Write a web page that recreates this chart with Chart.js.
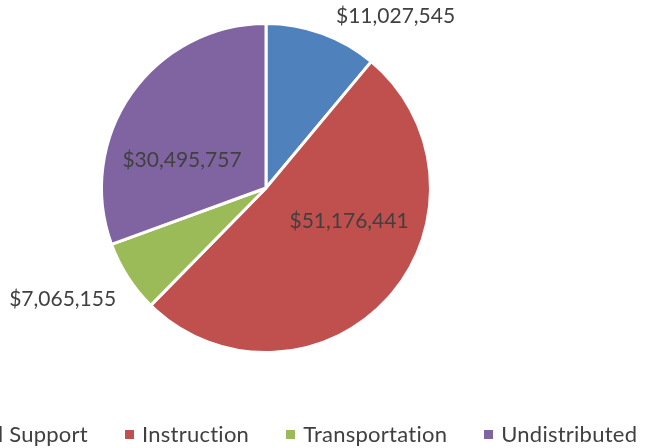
<!DOCTYPE html>
<html>
<head>
<meta charset="utf-8">
<script src="https://cdn.jsdelivr.net/npm/chart.js@4.4.0/dist/chart.umd.min.js"></script>
<style>
  html, body { margin: 0; padding: 0; background: #fff; }
  #wrap { position: relative; width: 645px; height: 448px; overflow: hidden; }
  #c { position: absolute; left: 0; top: 0; }
  #legend { position: absolute; top: 421px; left: 0; display: flex; align-items: center; white-space: nowrap;
            font-family: Lato, "Open Sans", sans-serif; font-size: 22px; letter-spacing: 0.25px; color: #404040; line-height: 26px; }
  .item { display: flex; align-items: center; margin-right: 37px; }
  .sw { width: 9px; height: 9px; margin-right: 8px; margin-top: 1px; }
</style>
</head>
<body>
<div id="wrap">
  <canvas id="c" width="645" height="448"></canvas>
  <div id="legend"></div>
</div>
<script>
const categories = ["Instructional Support", "Instruction", "Transportation", "Undistributed"];
const values = [11027545, 51176441, 7065155, 30495757];
const colors = ["#4F81BD", "#C0504D", "#9BBB59", "#8064A2"];

// label placement in polar terms relative to pie: angle (deg clockwise from top), distance as fraction of radius
const labelPlacement = [
  { angle: 36.9, dist: 1.300 },
  { angle: 111.3, dist: 0.537 },
  { angle: 241.5, dist: 1.394 },
  { angle: 288.6, dist: 0.534 }
];

const fmt = v => "$" + v.toLocaleString("en-US");

const labelPlugin = {
  id: "pieLabels",
  afterDatasetsDraw(chart) {
    const ctx = chart.ctx;
    const meta = chart.getDatasetMeta(0);
    ctx.save();
    ctx.font = "21px Lato, 'Open Sans', sans-serif";
    ctx.fillStyle = "#404040";
    ctx.textAlign = "center";
    ctx.textBaseline = "middle";
    meta.data.forEach((arc, i) => {
      const p = labelPlacement[i];
      const a = p.angle * Math.PI / 180;
      const r = (arc.outerRadius + 1.5) * p.dist;
      const x = arc.x + r * Math.sin(a);
      const y = arc.y - r * Math.cos(a);
      ctx.fillText(fmt(chart.data.datasets[0].data[i]), x, y + 1);
    });
    ctx.restore();
  }
};

const chart = new Chart(document.getElementById("c"), {
  type: "pie",
  data: {
    labels: categories,
    datasets: [{
      data: values,
      backgroundColor: colors,
      borderColor: "#ffffff",
      borderWidth: 3
    }]
  },
  options: {
    responsive: false,
    animation: false,
    layout: { padding: { left: 100, top: 22, right: 213, bottom: 94 } },
    plugins: { legend: { display: false }, tooltip: { enabled: false } }
  },
  plugins: [labelPlugin]
});

const legend = document.getElementById("legend");
const texts = [];
categories.forEach((c, i) => {
  const it = document.createElement("div");
  it.className = "item";
  const sw = document.createElement("span");
  sw.className = "sw";
  sw.style.background = colors[i];
  const tx = document.createElement("span");
  tx.textContent = c;
  it.appendChild(sw);
  it.appendChild(tx);
  legend.appendChild(it);
  texts.push(tx);
});
// align so the "Instruction" entry text starts where it does in the reference (legend is clipped on the left)
const shift = 142 - texts[1].getBoundingClientRect().left;
legend.style.left = shift + "px";
</script>
</body>
</html>
